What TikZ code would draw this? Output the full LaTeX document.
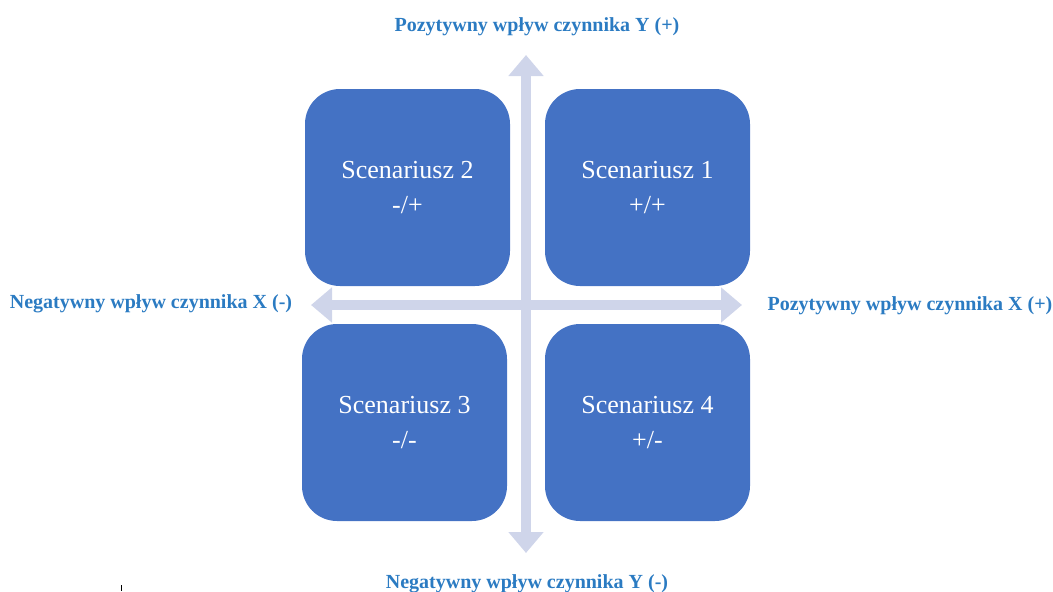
\documentclass[tikz,border=0pt]{standalone}
\usepackage{fontspec}
\setmainfont{Liberation Serif}
\usetikzlibrary{arrows.meta}
\definecolor{scenblue}{HTML}{4472C4}
\definecolor{axisgray}{HTML}{CFD5EA}
\definecolor{labelblue}{HTML}{2B7BC2}
\tikzset{
  scenbox/.style={draw=none,fill=scenblue,rounded corners=35pt,minimum width=205pt,minimum height=197pt,
    text=white,align=center,font=\fontsize{26}{35}\selectfont},
  axislabel/.style={inner sep=0pt,text=labelblue,font=\fontsize{20}{24}\selectfont\bfseries},
  axis/.style={axisgray,line width=10pt,{Triangle[width=34pt,length=21pt]}-{Triangle[width=34pt,length=21pt]}}
}
\begin{document}
\begin{tikzpicture}[x=1pt,y=-1pt]
  \useasboundingbox (0,0) rectangle (1053,592);
  \coordinate (ytop) at (526,55);
  \coordinate (ybot) at (526,553);
  \coordinate (xleft) at (311,305);
  \coordinate (xright) at (742,305);
  \draw[axis] (ybot) -- (ytop);
  \draw[axis] (xleft) -- (xright);
  \node[scenbox] (sc2) at (407.5,187.5) {Scenariusz 2\\-/+};
  \node[scenbox] (sc1) at (647.5,187.5) {Scenariusz 1\\+/+};
  \node[scenbox] (sc3) at (404.5,422.5) {Scenariusz 3\\-/-};
  \node[scenbox] (sc4) at (647.5,422.5) {Scenariusz 4\\+/-};
  \node[axislabel] (ypos) at (537,27) {Pozytywny wpływ czynnika Y (+)};
  \node[axislabel] (yneg) at (527,584) {Negatywny wpływ czynnika Y (-)};
  \node[axislabel] (xneg) at (151,304) {Negatywny wpływ czynnika X (-)};
  \node[axislabel] (xpos) at (910,306) {Pozytywny wpływ czynnika X (+)};
  \draw[line width=1pt] (121.5,585) -- (121.5,591);
\end{tikzpicture}
\end{document}
